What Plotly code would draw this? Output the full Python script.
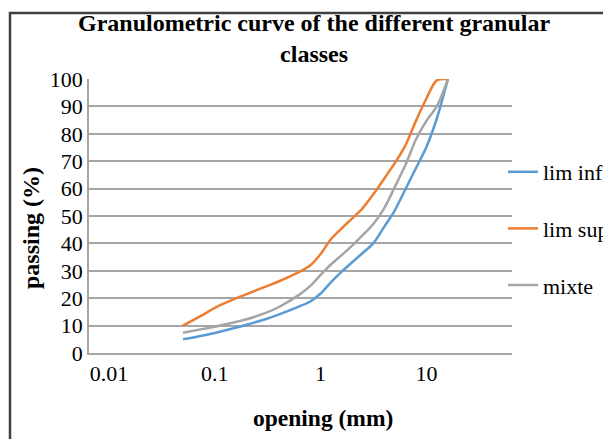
import plotly.graph_objects as go

opening_mm = [0.05, 0.08, 0.1, 0.16, 0.2, 0.315, 0.4, 0.63, 0.8, 1, 1.25, 1.6,
              2, 2.5, 3.15, 4, 5, 6.3, 8, 10, 12.5, 16]
lim_inf = [5.0, 6.5, 7.3, 9.3, 10.3, 12.6, 14.0, 17.0, 18.8, 21.7, 25.8, 29.9,
           33.2, 36.5, 40.0, 46.1, 51.9, 59.6, 67.6, 75.2, 85.4, 100]
lim_sup = [10.0, 14.3, 16.5, 20.0, 21.5, 24.5, 26.1, 29.6, 32.0, 36.1, 41.5, 45.7,
           49.2, 52.9, 57.9, 63.7, 69.2, 75.6, 84.9, 92.9, 99.5, 100]
mixte = [7.4, 8.9, 9.6, 11.4, 12.3, 14.9, 16.7, 21.3, 24.5, 28.5, 32.3, 35.9,
         39.3, 43.0, 47.1, 52.9, 60.4, 68.4, 78.1, 84.7, 89.9, 100]

series_names = ["lim inf", "lim sup", "mixte"]
series_values = [lim_inf, lim_sup, mixte]
series_colors = ["#5b9bd5", "#ed7d31", "#a5a5a5"]

x_tick_vals = [0.01, 0.1, 1, 10]
x_tick_text = ["0.01", "0.1", "1", "10"]
y_tick_vals = list(range(0, 101, 10))

SERIF = "Liberation Serif"

fig = go.Figure()
for name, vals, col in zip(series_names, series_values, series_colors):
    fig.add_trace(go.Scatter(
        x=opening_mm, y=vals, name=name, mode="lines", legendgroup=name,
        line=dict(color=col, width=2.5, shape="spline", smoothing=0.8),
    ))

# page body has an 8px margin; work in screen pixels and convert
OFF = 8
W, H = 611 - OFF, 439 - OFF
PL, PR, PT, PB = 89, 512, 79, 353          # plot area in screen px
L, T = PL - OFF, PT - OFF
R = W - (PR - OFF)
B = H - (PB - OFF)
pw, ph = PR - PL, PB - PT

def px_x(p):
    return (p - PL) / pw

def px_y(p):
    return (PB - p) / ph

def cx(p):
    return (p - OFF) / W

def cy(p):
    return 1 - (p - OFF) / H

fig.update_layout(
    width=W, height=H,
    margin=dict(l=L, r=R, t=T, b=B, autoexpand=False),
    paper_bgcolor="white", plot_bgcolor="white",
    font=dict(family=SERIF, color="#000000", size=22),
    showlegend=True,
    legend=dict(
        xref="container", yref="container",
        x=cx(503), y=cy(151), xanchor="left", yanchor="top",
        font=dict(family=SERIF, size=22, color="#000000"),
        bgcolor="rgba(0,0,0,0)", tracegroupgap=25, traceorder="grouped",
    ),
    xaxis=dict(
        type="log", range=[-2.189, 1.809],
        tickvals=x_tick_vals, ticktext=x_tick_text,
        showgrid=False, zeroline=False,
        showline=True, linecolor="#a6a6a6", linewidth=1.5,
        ticks="", tickfont=dict(family=SERIF, size=22, color="#000000"),
    ),
    yaxis=dict(
        range=[0, 100], tickvals=y_tick_vals,
        showgrid=True, gridcolor="#a6a6a6", gridwidth=1.5,
        zeroline=False, showline=True, linecolor="#a6a6a6", linewidth=1.5,
        ticks="", tickfont=dict(family=SERIF, size=22, color="#000000"),
    ),
    annotations=[
        dict(text="<b>Granulometric curve of the different granular<br>classes</b>",
             xref="paper", yref="paper", x=px_x(314), y=px_y(39),
             xanchor="center", yanchor="middle", showarrow=False,
             font=dict(family=SERIF, size=24, color="#000000")),
        dict(text="<b>passing (%)</b>", textangle=-90,
             xref="paper", yref="paper", x=px_x(31), y=px_y(228),
             xanchor="center", yanchor="middle", showarrow=False,
             font=dict(family=SERIF, size=24, color="#000000")),
        dict(text="<b>opening (mm)</b>",
             xref="paper", yref="paper", x=px_x(323), y=px_y(418),
             xanchor="center", yanchor="middle", showarrow=False,
             font=dict(family=SERIF, size=23.5, color="#000000")),
    ],
    shapes=[
        dict(type="rect", xref="paper", yref="paper",
             x0=px_x(10), x1=px_x(700), y0=px_y(520), y1=px_y(13),
             line=dict(color="#404040", width=2.5), fillcolor="rgba(0,0,0,0)",
             layer="above"),
    ],
)

fig.write_html("out.html")
